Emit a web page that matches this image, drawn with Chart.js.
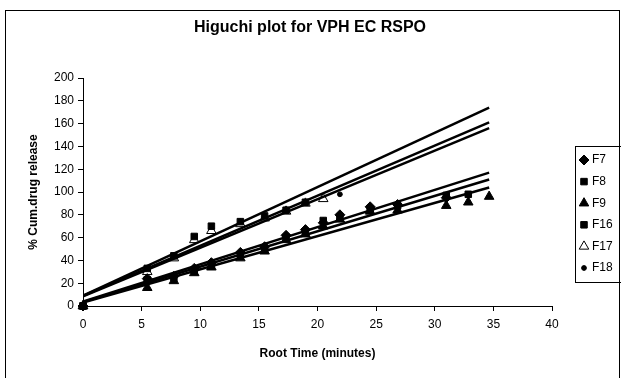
<!DOCTYPE html>
<html>
<head>
<meta charset="utf-8">
<script src="https://cdn.jsdelivr.net/npm/chart.js@4.4.0/dist/chart.umd.min.js"></script>
<style>
    html, body { margin: 0; padding: 0; background: #fff; }
    #wrap { width: 621px; height: 378px; }
</style>
</head>
<body>
<div id="wrap"><canvas id="higuchiChart" width="621" height="378"></canvas></div>
<script>
// Higuchi plot
const chartTitle = 'Higuchi plot for VPH EC RSPO';
const seriesNames = ['F7', 'F8', 'F9', 'F16', 'F17', 'F18'];

// root time (sqrt of minutes)
const rootTime = [0, 5.48, 7.75, 9.49, 10.95, 13.42, 15.49, 17.32, 18.97, 20.49, 21.91, 24.49, 26.83, 30.98, 32.86, 34.64];

// % cumulative drug release
const f7 = [0, 24, 26, 33, 38, 47, 52, 62, 67, 73, 80, 87, 89, 95];
const f8 = [0, 23, 25, 31, 36, 45, 50, 60, 65, 75, 78, 85, 88, 97, 98];
const f9 = [0, 16, 22, 29, 34, 42, 48, 58, 63, 70, 76, 83, 84, 88, 91, 96];
const f16 = [0, 33, 44, 61, 70, 74, 79, 84, 91];
const f17 = [0, 30, 42, 58, 66, 72, 77, 83, 90, 94];
const f18 = [0, 31, 43, 60, 68, 73, 78, 85, 91, 95, 98];

// linear trendlines: value at start and end x
const trendX = [0, 34.64];
const trendF7 = [4, 117];
const trendF8 = [3.5, 111];
const trendF9 = [3, 104];
const trendF16 = [9, 174];
const trendF17 = [8.5, 156];
const trendF18 = [9, 161];

const xTicks = { min: 0, max: 40, step: 5 };
const yTicks = { min: 0, max: 200, step: 20 };

const fontFamily = '"Liberation Sans", Arial, sans-serif';
Chart.defaults.font.family = fontFamily;
Chart.defaults.color = '#000';

function toPoints(values) {
    return values.map((v, i) => ({ x: rootTime[i], y: v }));
}
function toTrend(pair) {
    return pair.map((v, i) => ({ x: trendX[i], y: v }));
}

const markerStyles = [
    { pointStyle: 'rectRot', pointRadius: 5, bg: '#000' },
    { pointStyle: 'rect', pointRadius: 4.6, bg: '#000' },
    { pointStyle: 'triangle', pointRadius: 5.5, bg: '#000' },
    { pointStyle: 'rect', pointRadius: 4.6, bg: '#000' },
    { pointStyle: 'triangle', pointRadius: 5.5, bg: '#fff' },
    { pointStyle: 'circle', pointRadius: 2.4, bg: '#000' }
];

const seriesValues = [f7, f8, f9, f16, f17, f18];
const trendValues = [trendF7, trendF8, trendF9, trendF16, trendF17, trendF18];

const datasets = [];
seriesValues.forEach((vals, i) => {
    const m = markerStyles[i];
    datasets.push({
        label: seriesNames[i],
        data: toPoints(vals),
        pointStyle: m.pointStyle,
        pointRadius: m.pointRadius,
        pointBackgroundColor: m.bg,
        pointBorderColor: '#000',
        pointBorderWidth: 1,
        showLine: false,
        clip: false,
        order: 1
    });
});
trendValues.forEach((pair, i) => {
    datasets.push({
        label: 'Linear (' + seriesNames[i] + ')',
        data: toTrend(pair),
        showLine: true,
        borderColor: '#000',
        borderWidth: 2.5,
        pointRadius: 0,
        fill: false,
        order: 0
    });
});

// frame, title and legend box drawn like the spreadsheet chart
const chartDecor = {
    id: 'chartDecor',
    beforeDraw(chart) {
        const ctx = chart.ctx;
        ctx.save();
        ctx.fillStyle = '#fff';
        ctx.fillRect(0, 0, chart.width, chart.height);
        ctx.restore();
    },
    afterDraw(chart) {
        const ctx = chart.ctx;
        ctx.save();
        ctx.strokeStyle = '#000';
        ctx.lineWidth = 1;
        ctx.strokeRect(5.5, 10.5, 614, 420);

        ctx.fillStyle = '#000';
        ctx.font = 'bold 16px ' + fontFamily;
        ctx.textAlign = 'center';
        ctx.textBaseline = 'middle';
        ctx.fillText(chartTitle, 310, 28);

        ctx.strokeRect(575.5, 146.5, 60, 136);
        ctx.font = '12px ' + fontFamily;
        ctx.textAlign = 'left';
        seriesNames.forEach((name, i) => {
            const y = 160 + i * 21.6;
            const m = markerStyles[i];
            ctx.fillStyle = m.bg;
            ctx.strokeStyle = '#000';
            ctx.lineWidth = 1;
            Chart.helpers.drawPoint(ctx, {
                pointStyle: m.pointStyle,
                radius: m.pointRadius,
                borderWidth: 1,
                rotation: 0
            }, 584, y);
            ctx.fillStyle = '#000';
            ctx.fillText(name, 592, y);
        });
        ctx.restore();
    }
};

function initChart() {
    const ctx = document.getElementById('higuchiChart').getContext('2d');
    new Chart(ctx, {
        type: 'scatter',
        data: { datasets: datasets },
        plugins: [chartDecor],
        options: {
            responsive: false,
            animation: false,
            devicePixelRatio: 1,
            layout: { padding: { top: 78, right: 69, bottom: 0, left: 0 } },
            plugins: {
                legend: { display: false },
                tooltip: { enabled: false },
                title: { display: false }
            },
            scales: {
                x: {
                    type: 'linear',
                    min: xTicks.min,
                    max: xTicks.max,
                    ticks: { stepSize: xTicks.step, font: { size: 12 }, padding: 6, maxRotation: 0 },
                    grid: { drawOnChartArea: false, tickLength: 5, color: '#000' },
                    border: { display: true, color: '#000', width: 1 },
                    title: {
                        display: true,
                        text: 'Root Time (minutes)',
                        font: { size: 12, weight: 'bold' },
                        padding: { top: 0, bottom: 17 }
                    },
                    afterFit(scale) { scale.height = 72; }
                },
                y: {
                    type: 'linear',
                    min: yTicks.min,
                    max: yTicks.max,
                    ticks: { stepSize: yTicks.step, font: { size: 12 }, padding: 4 },
                    grid: { drawOnChartArea: false, tickLength: 5, color: '#000' },
                    border: { display: true, color: '#000', width: 1 },
                    title: {
                        display: true,
                        text: '% Cum.drug release',
                        font: { size: 12, weight: 'bold' },
                        padding: { top: 26, bottom: 0 }
                    },
                    afterFit(scale) { scale.width = 83; }
                }
            }
        }
    });
}

window.onload = () => {
    initChart();
};
</script>
</body>
</html>
